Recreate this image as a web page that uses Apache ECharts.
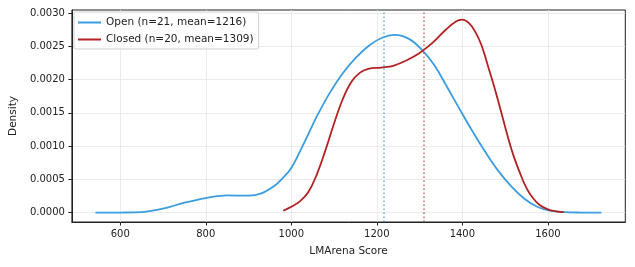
<!DOCTYPE html>
<html><head><meta charset="utf-8">
<script src="https://cdn.jsdelivr.net/npm/echarts@6/dist/echarts.min.js"></script>
<style>html,body{margin:0;padding:0;background:#fff}#c{width:635px;height:267px}</style>
</head><body><div id="c"></div>
<script>
const openX = [542,600,650,700,750,800,850,900,930,960,980,1000,1030,1060,1090,1120,1150,1180,1210,1243,1275,1305,1335,1365,1395,1425,1455,1485,1515,1545,1575,1605,1640,1680,1725];
const openY = [0,0.000002,0.00001,0.00006,0.00015,0.00022,0.00026,0.000255,0.00029,0.0004,0.00052,0.00067,0.00105,0.00145,0.0018,0.00209,0.00232,0.0025,0.00262,0.00267,0.00261,0.00245,0.00221,0.00188,0.00154,0.00121,0.0009,0.00062,0.00039,0.00021,0.00009,0.00003,0.000008,0.000002,0];
const closedX = [981,1000,1020,1040,1060,1080,1100,1120,1140,1160,1180,1210,1240,1270,1300,1330,1360,1385,1400,1415,1430,1445,1460,1475,1490,1505,1520,1535,1550,1565,1580,1600,1620,1637];
const closedY = [0.00003,0.00009,0.00017,0.00031,0.00058,0.00094,0.00134,0.0017,0.00196,0.0021,0.00216,0.00218,0.00221,0.00229,0.0024,0.00255,0.00274,0.00287,0.0029,0.00285,0.00272,0.00251,0.0022,0.00188,0.00153,0.00117,0.00085,0.00059,0.00037,0.00022,0.00012,0.00005,0.00002,0.00001];
const openMean = 1216, closedMean = 1309;
const openName = 'Open (n=21, mean=1216)';
const closedName = 'Closed (n=20, mean=1309)';
const xTicks = [600,800,1000,1200,1400,1600];
const yTicks = [0,0.0005,0.001,0.0015,0.002,0.0025,0.003];

const BLUE = '#3b9ddf', RED = '#b22222';
const F = 'DejaVu Sans';
const chart = echarts.init(document.getElementById('c'), null, {renderer:'canvas'});
const zip = (a,b) => a.map((v,i)=>[v,b[i]]);
chart.setOption({
  animation:false,
  backgroundColor:'#fff',
  grid:{left:70.7,right:9.7,top:10,bottom:45,show:true,borderColor:'#222',borderWidth:1,backgroundColor:'transparent'},
  legend:{
    left:74,top:12,orient:'vertical',itemGap:6,itemWidth:23,itemHeight:2,
    padding:[5,5,4,4],borderColor:'#d0d0d0',borderWidth:1,borderRadius:2,backgroundColor:'rgba(255,255,255,0.85)',
    textStyle:{fontFamily:F,fontSize:10.5,color:'#222'},
    data:[{name:openName,icon:'rect'},{name:closedName,icon:'rect'}]
  },
  xAxis:{type:'value',min:487,max:1781,
    name:'LMArena Score',nameLocation:'middle',nameGap:24,nameTextStyle:{fontFamily:F,fontSize:10.5,color:'#222'},
    axisLine:{show:true,onZero:false,lineStyle:{color:'#222',width:1}},
    axisTick:{show:true,inside:false,length:3.5,customValues:xTicks,lineStyle:{color:'#222'}},
    axisLabel:{customValues:xTicks,fontFamily:F,fontSize:10,color:'#222',margin:7,formatter:v=>String(v)},
    splitLine:{show:true,lineStyle:{color:'#e6e6e6',width:0.8}}
  },
  yAxis:{type:'value',min:-0.0001396,max:0.003044,
    name:'Density',nameLocation:'middle',nameGap:52,nameTextStyle:{fontFamily:F,fontSize:10.5,color:'#222'},
    axisLine:{show:true,onZero:false,lineStyle:{color:'#222',width:1}},
    axisTick:{show:true,inside:false,length:3.5,customValues:yTicks,lineStyle:{color:'#222'}},
    axisLabel:{customValues:yTicks,fontFamily:F,fontSize:10,color:'#222',margin:7,formatter:v=>v.toFixed(4)},
    splitLine:{show:true,lineStyle:{color:'#e6e6e6',width:0.8}}
  },
  series:[
    {name:openName,type:'line',data:zip(openX,openY),smooth:0.4,showSymbol:false,
      lineStyle:{color:BLUE,width:1.8},itemStyle:{color:BLUE},
      markLine:{silent:true,symbol:'none',label:{show:false},
        lineStyle:{color:BLUE,type:[1.5,2.5],width:1.6,opacity:0.75},data:[{xAxis:openMean}]}},
    {name:closedName,type:'line',data:zip(closedX,closedY),smooth:0.4,showSymbol:false,
      lineStyle:{color:RED,width:1.8},itemStyle:{color:RED},
      markLine:{silent:true,symbol:'none',label:{show:false},
        lineStyle:{color:'#c9413f',type:[1.5,2.5],width:1.6,opacity:0.75},data:[{xAxis:closedMean}]}}
  ]
});
</script></body></html>
